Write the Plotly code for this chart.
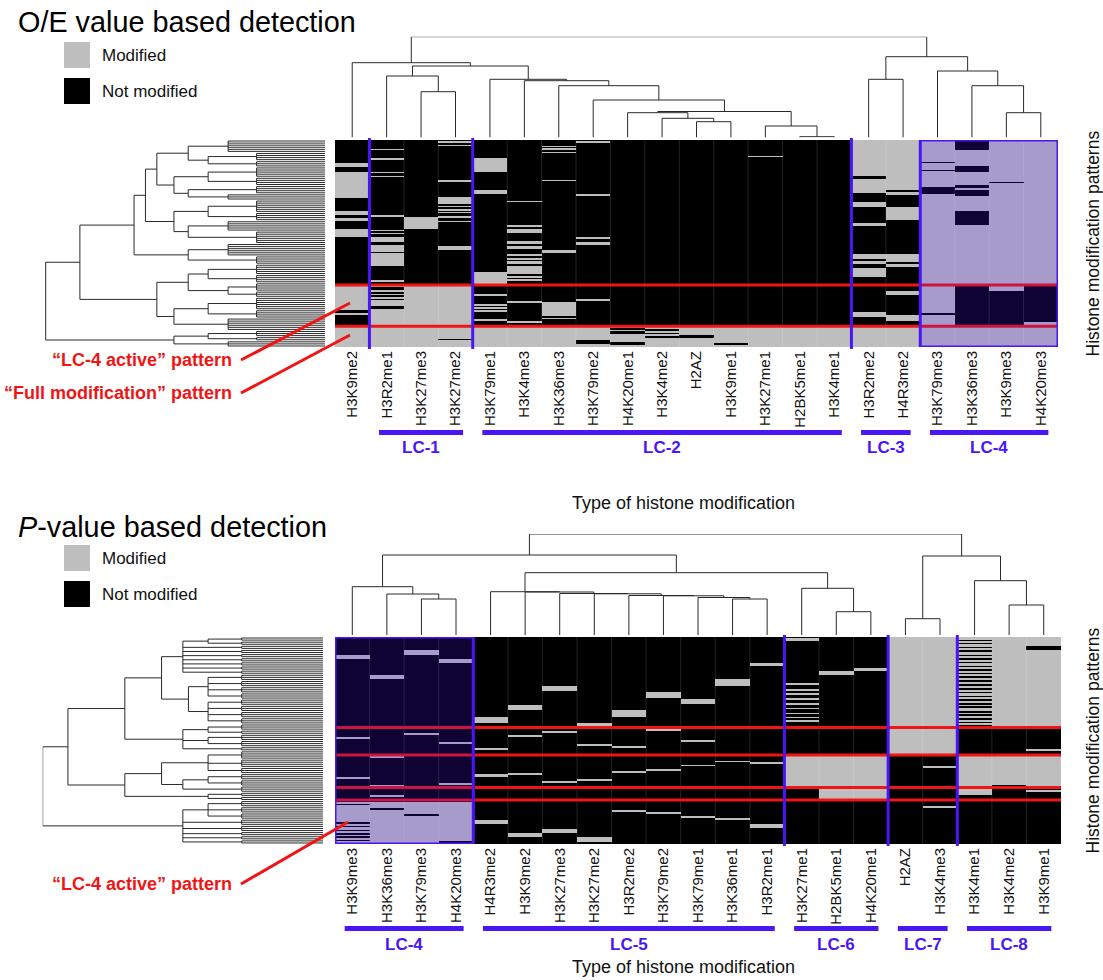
import numpy as np
import plotly.graph_objects as go

W, H = 1103, 980
FONT = "Liberation Sans, Arial, Helvetica, sans-serif"
BLUE = "#4B16F5"
RED = "#F01414"
GRAY = "#bebebe"

# ---------------- data ----------------
TOP_LABELS = ["H3K9me2", "H3R2me1", "H3K27me3", "H3K27me2", "H3K79me1", "H3K4me3", "H3K36me3",
              "H3K79me2", "H4K20me1", "H3K4me2", "H2AZ", "H3K9me1", "H3K27me1", "H2BK5me1",
              "H3K4me1", "H3R2me2", "H4R3me2", "H3K79me3", "H3K36me3", "H3K9me3", "H4K20me3"]
BOT_LABELS = ["H3K9me3", "H3K36me3", "H3K79me3", "H4K20me3", "H4R3me2", "H3K9me2", "H3K27me3",
              "H3K27me2", "H3R2me2", "H3K79me2", "H3K79me1", "H3K36me1", "H3R2me1", "H3K27me1",
              "H2BK5me1", "H4K20me1", "H2AZ", "H3K4me3", "H3K4me1", "H3K4me2", "H3K9me1"]

# modified (gray) row intervals per column, rows 0..100 from top
TOP_MODIFIED = [
    [[11.3, 13.2], [15.3, 28.2], [34.2, 36.3], [37.4, 39], [43, 47], [70, 100]],
    [[4.2, 4.9], [8.7, 9.4], [15.2, 16], [17.3, 18], [36.2, 36.9], [43.2, 43.9], [44.9, 45.6],
     [46.8, 49.2], [50.8, 54], [54.8, 61], [67.7, 68.7], [70, 100]],
    [[37, 43], [70, 100]],
    [[0.6, 1.2], [2.2, 2.9], [19.3, 20.2], [27.4, 31], [31.9, 32.6], [33.5, 34.2], [34.9, 35.6],
     [36.7, 37.4], [39, 39.8], [51, 53], [70, 100]],
    [[8.4, 15.3], [24, 26], [63.7, 69.5], [74.6, 75.4], [79.2, 80], [80.7, 81.4], [82.2, 83],
     [86.6, 87.6], [90, 100]],
    [[29.2, 30], [41, 42], [43, 45], [49, 50], [51, 52.4], [55, 56], [56.9, 57.7], [58.5, 59.7],
     [61, 64.5], [65.6, 66.5], [67.3, 68], [78, 78.8], [87.6, 88.4], [90, 100]],
    [[2.9, 3.6], [4.1, 4.8], [5.7, 6.4], [19.3, 20], [53.2, 54.8], [78.2, 85], [86, 86.6], [90, 100]],
    [[0.5, 1.3], [26.2, 27], [47, 48], [49.2, 50.8], [77, 77.7], [90, 100]],
    [[90, 100]], [[90, 100]], [[90, 100]], [[90, 100]],
    [[7.4, 8], [90, 100]],
    [[90, 100]], [[90, 100]],
    [[0, 100]], [[0, 100]], [[0, 100]], [[0, 100]], [[0, 100]], [[0, 100]],
]
# not-modified (black) intervals painted over the modified ones
TOP_UNMODIFIED = [
    [[82, 83.5], [84.5, 89.5]],
    [[71, 72.3], [73.4, 74.2], [75, 75.8], [77, 77.6], [80, 81.6]],
    [], [[96, 96.8]], [], [], [], [[96.8, 98.4]],
    [[90.9, 91.9], [92.6, 93.4], [97.6, 99]],
    [[91.4, 92.4], [92.9, 93.8], [94.7, 95.7]],
    [[94.2, 95.6]], [[98.2, 99.2]], [], [], [],
    [[17.4, 19], [25.5, 29.8], [32.3, 40.3], [41.5, 55.2], [57.3, 58.5], [59.7, 62], [66, 69.5],
     [70.4, 83], [85.5, 89.5]],
    [[24.2, 25], [26.6, 32.6], [38.4, 55.2], [58.9, 60], [61.6, 69.5], [70.4, 72.9], [75, 84.7],
     [87.4, 89.5]],
    [[10.5, 11], [14.5, 15], [22.6, 26], [83.8, 84.4]],
    [[0.6, 5.1], [12.6, 15.3], [21.5, 23], [24.2, 27], [34.4, 41], [70.3, 89.6]],
    [[20.4, 21], [73, 89.6]],
    [[70.3, 87.8]],
]

BOT_MODIFIED = [
    [[8.5, 10.5], [48.4, 49.4], [67.4, 68.5], [79.5, 100]],
    [[18.5, 20.6], [57.4, 58.4], [71.5, 72.3], [76.6, 77.6], [79.5, 100]],
    [[6.6, 8.5], [46.5, 47.6], [79.5, 100]],
    [[10.6, 12.6], [50.5, 51.6], [70.6, 71.5], [79.5, 100]],
    [[38.4, 41.6], [53.4, 54.5], [66.3, 67.4], [88.4, 90.3]],
    [[32.7, 35.5], [47.3, 48.4], [65.5, 66.6], [94.5, 96.5]],
    [[23.5, 26.3], [45.6, 46.5], [69.8, 70.6], [92.7, 94.5]],
    [[41.6, 42.9], [51.6, 52.6], [68.7, 69.7], [96.8, 98.9]],
    [[35.5, 38.7], [52.6, 53.5], [64.5, 65.5], [83.5, 84.7]],
    [[26.6, 29.5], [44.5, 45.3], [63.7, 64.5], [84.7, 85.6]],
    [[29.8, 32.4], [49.7, 50.5], [61.8, 62.6], [86.5, 87.4]],
    [[20.6, 23.4], [59.7, 60.5], [87.6, 88.4]],
    [[12.6, 14.2], [60.6, 61.6], [90.3, 92.4]],
    [[0.5, 2.1], [22.3, 23], [25.2, 26], [27.2, 27.9], [29.6, 30.3], [32, 32.7], [34.4, 35.1],
     [36.5, 37.2], [38.5, 39.2], [40.3, 41], [57.3, 72.7]],
    [[16.6, 18.5], [57.3, 78.7]],
    [[14.7, 16.6], [57.3, 78.7]],
    [[0, 57.3]],
    [[0, 57.3], [62.6, 63.4], [81.6, 82.4]],
    [[0, 43.7], [57.3, 76.5]],
    [[0, 43.7], [57.3, 71.6]],
    [[0, 4.3], [6.3, 43.7], [54.3, 55.3], [57.3, 72.7], [73.9, 75]],
]
BOT_UNMODIFIED = [
    [[80.5, 81.3], [89.5, 90.3], [91.3, 92.1], [93, 93.8], [94.7, 95.5], [96.3, 97.1], [98, 98.8]],
    [[82.7, 83.5]], [[85.6, 86.4]], [[98.4, 99.4]],
    [], [], [], [], [], [], [], [], [], [], [], [], [], [],
    [[1.3, 2.0], [2.9, 3.6], [4.7, 5.4], [6.6, 7.3], [8.4, 9.1], [10.3, 11], [12, 12.7], [13.9, 14.6],
     [15.5, 16.2], [17.4, 18.1], [19.1, 19.8], [21, 21.7], [22.8, 23.5], [24.7, 25.4], [26.5, 27.2],
     [28.4, 29.1], [30, 30.7], [32, 32.7], [33.6, 34.3], [35.7, 36.4], [37.3, 38], [39.2, 39.9],
     [41, 41.7], [42.6, 43.3]],
    [], [],
]

TOP_CUTS = [70, 90]                      # red pattern boundaries (rows)
BOT_CUTS = [43.7, 57, 72.7, 78.7]
TOP_GROUP_SPLITS = [0.5, 3.5, 14.5]      # blue separators (between columns)
BOT_GROUP_SPLITS = [12.5, 15.5, 17.5]
TOP_LC = [("LC-1", 1, 3), ("LC-2", 4, 14), ("LC-3", 15, 16), ("LC-4", 17, 20)]
BOT_LC = [("LC-4", 0, 3), ("LC-5", 4, 12), ("LC-6", 13, 15), ("LC-7", 16, 17), ("LC-8", 18, 20)]
TOP_BOX = (17, 20)
BOT_BOX = (0, 3)

# dendrograms: [height, children...]; column trees: int = column index; row trees: int = number of leaves
TOP_COL_TREE = [100.8,
                [74.8, 0,
                 [71.5,
                  [61.5, 1, [45.8, 2, 3]],
                  [58.2, 4, [56.8, 5, [51.8, 6, [37.5, 7,
                   [26, [24.8, 8, [19.2, 9, [15.8, 10, 11]]], [11.5, 12, [0.8, 13, 14]]]]]]]]],
                [80.8, [58.2, 15, 16], [66.5, 17, [51.8, 18, [24.8, 19, 20]]]]]
BOT_COL_TREE = [101,
                [80,
                 [48.3, 0, [41, 1, [36, 2, 3]]],
                 [62.3,
                  [43.3, 4, [43, 5, [41.5, 6, [41.2, 7, [39.5, 8, [39.2, 9, [37.5, 10, [36, 11, 12]]]]]]]],
                  [46.7, 13, [23.3, 14, 15]]]],
                [79, [16.3, 16, 17], [54.3, 18, [30, 19, 20]]]]

TOP_ROW_TREE = [98,
                [86,
                 [67,
                  [63,
                   [59,
                    [48, [34, 6], [41, [24, 4], [24, 3]]],
                    [53, [41, [24, 5], [24, 4]], [48, [24, 4], [34, 3]]]],
                   [53, [41, [24, 6], [24, 4]], [48, [34, 5], [24, 6]]]],
                  [48, [34, 6], [24, 4]]],
                 [59,
                  [48, [41, [24, 5], [24, 4]], [34, [24, 4], [24, 3]]],
                  [53, [41, [24, 6], [24, 4]], [34, 6]]]],
                [53, [41, [24, 3], [24, 2]], [34, 3]]]

BOT_ROW_TREE = [100,
                [91,
                 [70.7,
                  [57.6,
                   [50, [41, [29, 2], [29, 2]], [29, 2], [29, 2], [29, 2], [29, 2], [29, 2], [29, 2], [29, 2]],
                   [48, [41, [29, 3], [29, 3], [29, 3], [29, 3]], [41, [29, 3], [29, 3], [29, 3], [29, 3]]]],
                  [50, [41, [29, 3], [29, 2]], [41, [29, 3], [29, 3]], [29, 2]]],
                 [70.7,
                  [57.6, [41, [29, 4], [29, 4], [29, 3]], [50, [41, [29, 3], [29, 3]], [29, 3]]],
                  [50, [41, [29, 2], [29, 2]]]]],
                [50, [41, [29, 3], [29, 3], [29, 3]], [29, 3], [29, 3], [29, 2], [29, 2], [29, 2]]]


# ---------------- helpers ----------------
def px(x):
    return x / W


def py(y):
    return 1 - y / H


RES = 4


def build_matrix(mod, unmod):
    z = np.zeros((100 * RES, len(mod)))
    for j, segs in enumerate(mod):
        for a, b in segs:
            z[int(round(a * RES)):int(round(b * RES)), j] = 1
    for j, segs in enumerate(unmod):
        for a, b in segs:
            z[int(round(a * RES)):int(round(b * RES)), j] = 0
    return z


def count_leaves(node):
    if isinstance(node, int):
        return node
    return sum(count_leaves(c) for c in node[1:])


def tree_segments(node, count_mode, n_leaves=None):
    segs = []
    counter = [0]

    def rec(nd):
        h = nd[0]
        kids = []
        for ch in nd[1:]:
            if isinstance(ch, int):
                if count_mode:
                    for _ in range(ch):
                        p = (counter[0] + 0.5) * 100.0 / n_leaves
                        counter[0] += 1
                        kids.append((p, 0.0))
                else:
                    kids.append((float(ch), 0.0))
            else:
                kids.append(rec(ch))
        for p, hc in kids:
            segs.append([(p, hc), (p, h)])
        ps = [k[0] for k in kids]
        segs.append([(min(ps), h), (max(ps), h)])
        return ((min(ps) + max(ps)) / 2.0, h)

    rec(node)
    return segs


def dendro_trace(tree, count_mode, horizontal, xa, ya):
    n = count_leaves(tree) if count_mode else None
    segs = tree_segments(tree, count_mode, n)
    xs, ys = [], []
    for (p0, h0), (p1, h1) in segs:
        if horizontal:
            xs += [h0, h1, None]
            ys += [p0, p1, None]
        else:
            xs += [p0, p1, None]
            ys += [h0, h1, None]
    return go.Scatter(x=xs, y=ys, mode="lines", line=dict(color="#2a2a2a", width=1),
                      xaxis=xa, yaxis=ya, hoverinfo="skip", showlegend=False)


fig = go.Figure()
shapes = []
annos = []

panels = [
    dict(mod=TOP_MODIFIED, unmod=TOP_UNMODIFIED, labels=TOP_LABELS, cuts=TOP_CUTS,
         splits=TOP_GROUP_SPLITS, lc=TOP_LC, box=TOP_BOX, coltree=TOP_COL_TREE, rowtree=TOP_ROW_TREE,
         hx=(335, 1058), hy=(140, 347), rd=(40, 325), cd=(36.7, 137.5), ax=["", "2", "3"],
         lcbar=430, lctext=448, xtitle=503, title="O/E value based detection", ty=22, leg=42,
         ptr=[("“LC-4 active” pattern", 360, (350, 303)), ("“Full modification” pattern", 393, (350, 335))]),
    dict(mod=BOT_MODIFIED, unmod=BOT_UNMODIFIED, labels=BOT_LABELS, cuts=BOT_CUTS,
         splits=BOT_GROUP_SPLITS, lc=BOT_LC, box=BOT_BOX, coltree=BOT_COL_TREE, rowtree=BOT_ROW_TREE,
         hx=(335, 1061), hy=(637, 844), rd=(42.7, 323), cd=(534, 635), ax=["4", "5", "6"],
         lcbar=926, lctext=944, xtitle=967, title="<i>P</i>-value based detection", ty=527, leg=545,
         ptr=[("“LC-4 active” pattern", 884, (348, 822))]),
]

layout_axes = {}
for P in panels:
    a_h, a_r, a_c = P["ax"]
    z = build_matrix(P["mod"], P["unmod"])
    ycent = (np.arange(100 * RES) + 0.5) / RES
    fig.add_trace(go.Heatmap(z=z, x=list(range(21)), y=ycent, zmin=0, zmax=1,
                             colorscale=[[0, "#000000"], [1, GRAY]], showscale=False,
                             xaxis="x" + a_h, yaxis="y" + a_h, hoverinfo="skip"))
    fig.add_trace(dendro_trace(P["rowtree"], True, True, "x" + a_r, "y" + a_r))
    fig.add_trace(dendro_trace(P["coltree"], False, False, "x" + a_c, "y" + a_c))

    hx0, hx1 = P["hx"]
    hy0, hy1 = P["hy"]
    xd = [px(hx0), px(hx1)]
    yd = [py(hy1), py(hy0)]
    k = lambda s, n: s + ("axis" + n)
    layout_axes[k("x", a_h)] = dict(domain=xd, range=[-0.5, 20.5], anchor="y" + a_h,
                                    tickmode="array", tickvals=list(range(21)), ticktext=P["labels"],
                                    tickangle=-90, ticks="", showgrid=False, zeroline=False,
                                    tickfont=dict(family=FONT, size=15, color="#111"))
    layout_axes[k("y", a_h)] = dict(domain=yd, range=[100, 0], anchor="x" + a_h, visible=False)
    rx0, rx1 = P["rd"]
    layout_axes[k("x", a_r)] = dict(domain=[px(rx0), px(rx1)], range=[100, 0], anchor="y" + a_r,
                                    visible=False)
    layout_axes[k("y", a_r)] = dict(domain=yd, range=[100, 0], anchor="x" + a_r, visible=False)
    cy0, cy1 = P["cd"]
    layout_axes[k("x", a_c)] = dict(domain=xd, range=[-0.5, 20.5], anchor="y" + a_c, visible=False)
    layout_axes[k("y", a_c)] = dict(domain=[py(cy1), py(cy0)], range=[0, P["coltree"][0]],
                                    anchor="x" + a_c, visible=False)

    xr, yr = "x" + a_h, "y" + a_h
    for i in range(20):
        shapes.append(dict(type="line", xref=xr, yref=yr, x0=i + 0.5, x1=i + 0.5, y0=0, y1=100,
                           line=dict(color="rgba(255,255,255,0.14)", width=1)))
    for c in P["cuts"]:
        shapes.append(dict(type="line", xref=xr, yref=yr, x0=-0.56, x1=20.5, y0=c, y1=c,
                           line=dict(color=RED, width=3)))
    b0, b1 = P["box"]
    shapes.append(dict(type="rect", xref=xr, yref=yr, x0=b0 - 0.5, x1=b1 + 0.5, y0=0, y1=100,
                       fillcolor="rgba(70,15,255,0.2)", line=dict(color=BLUE, width=3)))
    for s in P["splits"]:
        shapes.append(dict(type="line", xref=xr, yref="paper", x0=s, x1=s,
                           y0=py(hy0 - 2), y1=py(hy1 + 2), line=dict(color=BLUE, width=3)))
    for name, c0, c1 in P["lc"]:
        shapes.append(dict(type="rect", xref=xr, yref="paper", x0=c0 - 0.22, x1=c1 + 0.22,
                           y0=py(P["lcbar"] + 5), y1=py(P["lcbar"]), fillcolor=BLUE, line=dict(width=0)))
        annos.append(dict(text="<b>%s</b>" % name, xref=xr, yref="paper", x=(c0 + c1) / 2.0,
                          y=py(P["lctext"]), showarrow=False, xanchor="center", yanchor="middle",
                          font=dict(family=FONT, size=17, color=BLUE)))
    annos.append(dict(text="Type of histone modification", xref="paper", yref="paper",
                      x=px(683), y=py(P["xtitle"]), showarrow=False, xanchor="center", yanchor="middle",
                      font=dict(family=FONT, size=18, color="#111")))
    annos.append(dict(text="Histone modification patterns", xref="paper", yref="paper",
                      x=px(1092), y=py((hy0 + hy1) / 2.0), showarrow=False, textangle=-90,
                      xanchor="center", yanchor="middle", font=dict(family=FONT, size=17.5, color="#111")))
    annos.append(dict(text=P["title"], xref="paper", yref="paper", x=px(16), y=py(P["ty"]),
                      showarrow=False, xanchor="left", yanchor="middle",
                      font=dict(family=FONT, size=28.8, color="#000")))
    lg = P["leg"]
    shapes.append(dict(type="rect", xref="paper", yref="paper", x0=px(64), x1=px(90),
                       y0=py(lg + 26), y1=py(lg), fillcolor=GRAY, line=dict(width=0)))
    shapes.append(dict(type="rect", xref="paper", yref="paper", x0=px(64), x1=px(90),
                       y0=py(lg + 62), y1=py(lg + 36), fillcolor="#000", line=dict(width=0)))
    annos.append(dict(text="Modified", xref="paper", yref="paper", x=px(100), y=py(lg + 13),
                      showarrow=False, xanchor="left", yanchor="middle",
                      font=dict(family=FONT, size=17, color="#111")))
    annos.append(dict(text="Not modified", xref="paper", yref="paper", x=px(100), y=py(lg + 49),
                      showarrow=False, xanchor="left", yanchor="middle",
                      font=dict(family=FONT, size=17, color="#111")))
    for txt, yy, (ex, ey) in P["ptr"]:
        annos.append(dict(text="<b>%s</b>" % txt, xref="paper", yref="paper", x=px(234), y=py(yy),
                          showarrow=False, xanchor="right", yanchor="middle",
                          font=dict(family=FONT, size=18, color=RED)))
        shapes.append(dict(type="line", xref="paper", yref="paper", x0=px(241), y0=py(yy),
                           x1=px(ex), y1=py(ey), line=dict(color=RED, width=3)))

fig.update_layout(width=W, height=H, margin=dict(l=0, r=0, t=0, b=0),
                  paper_bgcolor="white", plot_bgcolor="white", showlegend=False,
                  shapes=shapes, annotations=annos, font=dict(family=FONT), **layout_axes)
fig.write_html("out.html", config={"displayModeBar": False},
               post_script="document.body.style.margin='0px';document.body.style.overflow='hidden';")
